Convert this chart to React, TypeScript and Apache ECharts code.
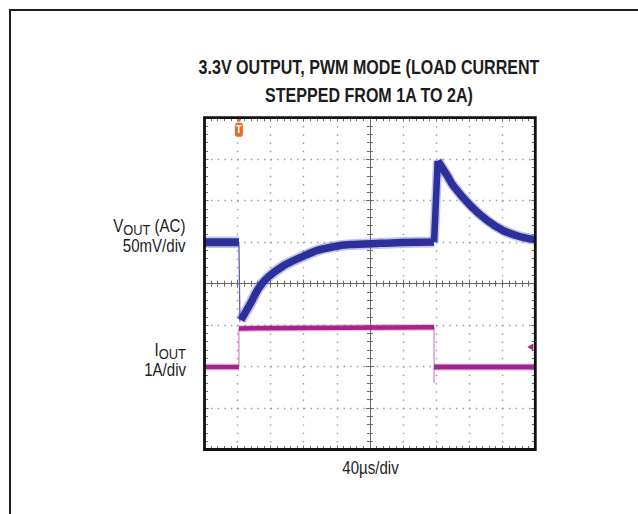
import React, { useEffect, useRef } from 'react';
import * as echarts from 'echarts';

// Time in divisions (40 µs/div), 0 = centre of screen.
// VOUT in divisions (50 mV/div, AC coupled), IOUT in divisions (1 A/div).
const voutBefore: [number, number][] = [[-5, 1.0], [-3.96, 1.0]];
const voutDrop: [number, number][] = [[-3.96, 1.0], [-3.93, -0.92]];
const voutRecovery: [number, number][] = [
  [-3.9, -0.88], [-3.61, -0.48], [-3.37, -0.12], [-3.1, 0.14], [-2.61, 0.43],
  [-2.1, 0.63], [-1.59, 0.8], [-1.1, 0.89], [-0.59, 0.94], [0.32, 0.97], [1.0, 0.99], [1.94, 1.0],
];
const voutSpike: [number, number][] = [[1.94, 1.0], [2.05, 2.96]];
const voutDecay: [number, number][] = [
  [2.05, 2.96], [2.34, 2.6], [2.52, 2.36], [3.04, 1.88], [3.55, 1.52],
  [4.03, 1.28], [4.55, 1.13], [5.0, 1.06],
];
const ioutLowBefore: [number, number][] = [[-5, -2.01], [-3.96, -2.01]];
const ioutRise: [number, number][] = [[-3.96, -2.01], [-3.96, -1.08]];
const ioutHigh: [number, number][] = [[-3.96, -1.08], [1.94, -1.05]];
const ioutFall: [number, number][] = [[1.94, -1.05], [1.94, -2.4]];
const ioutLowAfter: [number, number][] = [[1.94, -2.01], [5, -2.01]];
const triggerTime = -3.96;
const ch2GroundLevel = -1.53;

const X_MIN = -5, X_MAX = 5, Y_MIN = -4, Y_MAX = 4;

const TITLE = '3.3V OUTPUT, PWM MODE (LOAD CURRENT\nSTEPPED FROM 1A TO 2A)';
const X_LABEL = '40µs/div';
const VOUT_SCALE = '50mV/div';
const IOUT_SCALE = '1A/div';

const BLUE = '#2c309a';
const BLUE_HALO = 'rgba(95,100,205,0.38)';
const MAGENTA = '#a5238d';
const MAGENTA_HALO = 'rgba(200,90,175,0.35)';
const ORANGE = '#ea6a25';
const GRID_COLOR = '#9a9a9a';
const AXIS_COLOR = '#6a6a6a';
const FRAME_COLOR = '#111111';
const FONT = 'Liberation Sans, Arial, sans-serif';
const TEXT_COLOR = '#1c1c1c';

const GRID = { left: 196.5, top: 109.7, width: 330.8, height: 331.8 };

function axisCfg(dim: 'x' | 'y', position: string, center: boolean, split: boolean) {
  return {
    type: 'value',
    position,
    min: dim === 'x' ? X_MIN : Y_MIN,
    max: dim === 'x' ? X_MAX : Y_MAX,
    interval: 1,
    axisLabel: { show: false },
    axisLine: {
      show: center,
      onZero: center,
      onZeroAxisIndex: 0,
      lineStyle: { color: AXIS_COLOR, width: 1 },
    },
    axisTick: {
      show: true,
      inside: !center,
      length: center ? 4 : 4,
      lineStyle: { color: AXIS_COLOR, width: 1 },
    },
    minorTick: {
      show: true,
      splitNumber: 5,
      length: center ? 3 : 3.5,
      lineStyle: { color: AXIS_COLOR, width: 1 },
    },
    splitLine: {
      show: split,
      lineStyle: {
        color: GRID_COLOR,
        width: 1.4,
        type: dim === 'x' ? [1.4, 6.89] : [1.4, 5.22],
      },
    },
    minorSplitLine: { show: false },
  };
}

function line(data: [number, number][], color: string, width: number, smooth: number | boolean, z = 2) {
  return {
    type: 'line',
    data,
    showSymbol: false,
    symbol: 'none',
    smooth,
    silent: true,
    clip: true,
    z,
    lineStyle: { color, width, cap: 'butt', join: 'round' },
    emphasis: { disabled: true },
  };
}

const textBase = (text: string, align: string) => ({
  text,
  fontFamily: FONT,
  fontSize: 17.5,
  fill: TEXT_COLOR,
  textAlign: align,
  align,
  textVerticalAlign: 'middle',
  verticalAlign: 'middle',
});

const subRich = {
  a: { fontFamily: FONT, fontSize: 17.5, lineHeight: 20, verticalAlign: 'top', fill: TEXT_COLOR, color: TEXT_COLOR },
  b: { fontFamily: FONT, fontSize: 15, lineHeight: 20.5, verticalAlign: 'bottom', fill: TEXT_COLOR, color: TEXT_COLOR },
};

export default function App() {
  const ref = useRef<HTMLDivElement>(null);

  useEffect(() => {
    if (!ref.current) return;
    const chart = echarts.init(ref.current, null, { renderer: 'svg' });
    const sx = 0.86;
    const titleSx = 0.765;

    const ioutEnd: any = line(ioutLowAfter, MAGENTA, 5, false);
    ioutEnd.markPoint = {
      silent: true,
      label: { show: false },
      data: [
        {
          coord: [X_MAX, ch2GroundLevel],
          symbol: 'triangle',
          symbolRotate: 90,
          symbolSize: [7, 6],
          symbolOffset: [-5, 0],
          itemStyle: { color: MAGENTA },
        },
      ],
    };
    const decay: any = line(voutDecay, BLUE, 7.5, 0.3, 4);
    decay.markPoint = {
      silent: true,
      data: [
        {
          coord: [triggerTime, Y_MAX],
          symbol: 'circle',
          symbolSize: 4,
          symbolOffset: [0, 2],
          itemStyle: { color: ORANGE },
          label: { show: false },
        },
        {
          coord: [triggerTime, Y_MAX],
          symbol: 'roundRect',
          symbolSize: [8, 14],
          symbolOffset: [0, 12],
          itemStyle: { color: ORANGE },
          label: {
            show: true,
            position: 'inside',
            formatter: 'T',
            color: '#ffffff',
            fontSize: 10,
            fontWeight: 'bold',
            fontFamily: FONT,
          },
        },
      ],
    };

    const option: any = {
      animation: false,
      grid: {
        ...GRID,
        show: false,
        containLabel: false,
        outerBoundsMode: 'none',
      },
      xAxis: [
        axisCfg('x', 'bottom', true, true),
        axisCfg('x', 'top', true, false),
        axisCfg('x', 'bottom', false, false),
        axisCfg('x', 'top', false, false),
      ],
      yAxis: [
        axisCfg('y', 'left', true, true),
        axisCfg('y', 'right', true, false),
        axisCfg('y', 'left', false, false),
        axisCfg('y', 'right', false, false),
      ],
      series: [
        line(ioutRise, '#d77fc2', 1.2, false),
        line(ioutFall, '#d77fc2', 1.2, false),
        line(ioutLowBefore, MAGENTA_HALO, 7, false),
        line(ioutHigh, MAGENTA_HALO, 7, false),
        line(ioutLowAfter, MAGENTA_HALO, 7, false),
        line(ioutLowBefore, MAGENTA, 4.5, false),
        line(ioutHigh, MAGENTA, 4.5, false),
        ioutEnd,
        line(voutDrop, '#5a5fb8', 1.3, false),
        line(voutBefore, BLUE_HALO, 11.5, false, 3),
        line(voutRecovery, BLUE_HALO, 11, 0.3, 3),
        line(voutSpike, BLUE_HALO, 9.5, false, 3),
        line(voutDecay, BLUE_HALO, 10.5, 0.3, 3),
        line(voutBefore, BLUE, 8, false, 4),
        line(voutRecovery, BLUE, 7.5, 0.3, 4),
        line(voutSpike, BLUE, 6.5, false, 4),
        decay,
      ],
      graphic: [
        {
          type: 'rect',
          z: 100,
          silent: true,
          shape: { x: GRID.left, y: GRID.top, width: GRID.width, height: GRID.height },
          style: { fill: 'none', stroke: FRAME_COLOR, lineWidth: 2.8 },
        },
        {
          type: 'text',
          x: 361,
          y: 72.75,
          scaleX: titleSx,
          style: { ...textBase(TITLE, 'center'), fontSize: 21, fontWeight: 'bold', lineHeight: 27.5 },
        },
        {
          type: 'text',
          x: 177.5,
          y: 219,
          scaleX: sx,
          style: { ...textBase('{a|V}{b|OUT}{a| (AC)}', 'right'), rich: subRich },
        },
        {
          type: 'text',
          x: 177.5,
          y: 238,
          scaleX: sx,
          style: textBase(VOUT_SCALE, 'right'),
        },
        {
          type: 'text',
          x: 178,
          y: 342.5,
          scaleX: sx,
          style: { ...textBase('{a|I}{b|OUT}', 'right'), rich: subRich },
        },
        {
          type: 'text',
          x: 178,
          y: 361.5,
          scaleX: sx,
          style: textBase(IOUT_SCALE, 'right'),
        },
        {
          type: 'text',
          x: 362.5,
          y: 459.5,
          scaleX: sx,
          style: textBase(X_LABEL, 'center'),
        },
      ],
    };

    chart.setOption(option);
    return () => {
      chart.dispose();
    };
  }, []);

  return (
    <div style={{ position: 'relative', width: 622, height: 498, overflow: 'hidden', background: '#ffffff' }}>
      <div ref={ref} style={{ position: 'absolute', left: 0, top: 0, width: 622, height: 498 }} />
      <div
        style={{
          position: 'fixed',
          left: 9,
          top: 9,
          right: 0,
          bottom: 0,
          borderTop: '2px solid #1e1e1e',
          borderLeft: '2px solid #1e1e1e',
          boxSizing: 'border-box',
          pointerEvents: 'none',
          zIndex: 2,
        }}
      />
    </div>
  );
}
